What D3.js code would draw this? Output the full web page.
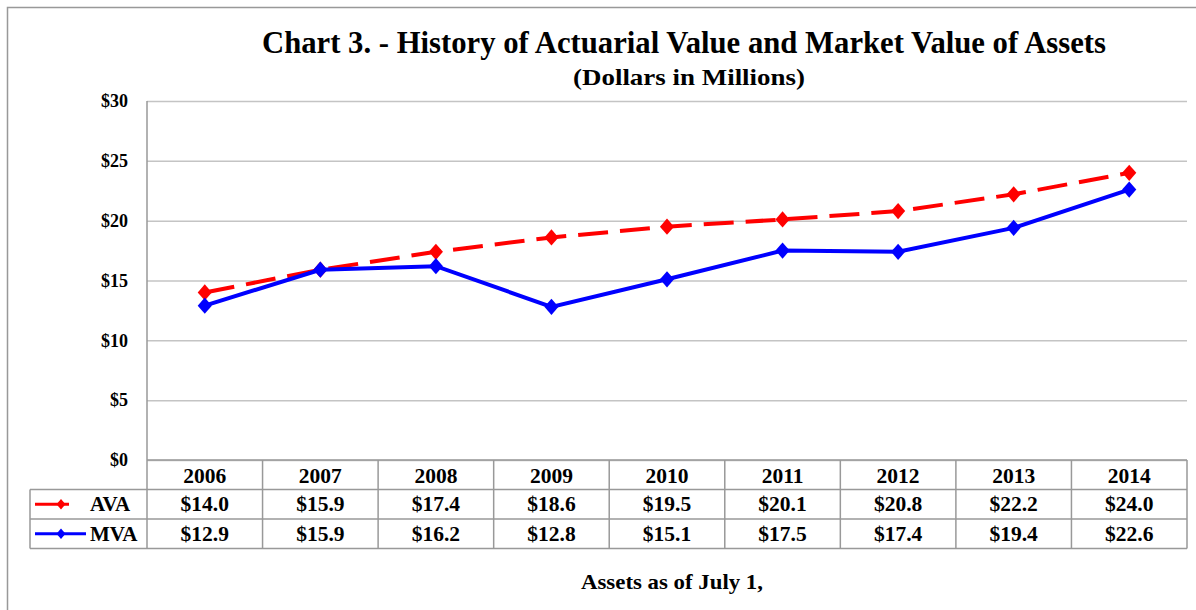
<!DOCTYPE html>
<html>
<head>
<meta charset="utf-8">
<script src="https://cdn.jsdelivr.net/npm/d3@7"></script>
<style>
  body { margin: 0; background: #fff; }
  svg { display: block; font-family: "Liberation Serif", "Times New Roman", serif; font-weight: bold; }
</style>
</head>
<body>
<svg id="chart" width="1196" height="610"></svg>
<script>
// chart data
const years = ["2006", "2007", "2008", "2009", "2010", "2011", "2012", "2013", "2014"];
const avaValues = [14.0, 15.9, 17.4, 18.6, 19.5, 20.1, 20.8, 22.2, 24.0];
const mvaValues = [12.9, 15.9, 16.2, 12.8, 15.1, 17.5, 17.4, 19.4, 22.6];
const yTicks = [0, 5, 10, 15, 20, 25, 30];

const series = [
  { name: "AVA", values: avaValues, color: "#ff0000", dash: "30,12", legendEnd: 69 },
  { name: "MVA", values: mvaValues, color: "#0000ff", dash: null, legendEnd: 86 }
];

const MARGIN = { left: 147, top: 101 };
const plotW = 1187 - MARGIN.left;
const plotH = 460 - MARGIN.top;
const rowH = 29.5;
const gridColor = "#999";

const svg = d3.select("#chart");

// outer frame
svg.append("rect")
  .attr("x", 7.5).attr("y", 7.5)
  .attr("width", 1200).attr("height", 620)
  .attr("fill", "none").attr("stroke", gridColor).attr("stroke-width", 1.5);

// titles
svg.append("text")
  .attr("x", 262).attr("y", 53)
  .attr("textLength", 844).attr("lengthAdjust", "spacingAndGlyphs")
  .style("font-size", "31px")
  .text("Chart 3. - History of Actuarial Value and Market Value of Assets");
svg.append("text")
  .attr("x", 573).attr("y", 85)
  .attr("textLength", 232).attr("lengthAdjust", "spacingAndGlyphs")
  .style("font-size", "24px")
  .text("(Dollars in Millions)");

const xScale = d3.scaleBand().domain(years).range([0, plotW]);
const yScale = d3.scaleLinear().domain([0, 30]).range([plotH, 0]);
const cx = d => xScale(d) + xScale.bandwidth() / 2;

const plot = svg.append("g").attr("transform", `translate(${MARGIN.left},${MARGIN.top})`);

// gridlines + y axis labels
const yAxis = plot.append("g")
  .call(d3.axisLeft(yScale).tickValues(yTicks).tickSize(-plotW).tickFormat(d => "$" + d).tickPadding(19));
yAxis.select(".domain").remove();
yAxis.selectAll(".tick line").attr("stroke", "#c4c4c4").attr("stroke-width", 1.5);
yAxis.selectAll(".tick text")
  .style("font-size", "18px").style("font-family", "Liberation Serif, serif")
  .style("font-weight", "bold").attr("fill", "#000");

// left axis line
plot.append("line")
  .attr("x1", 0).attr("x2", 0).attr("y1", 0).attr("y2", plotH + rowH * 3)
  .attr("stroke", gridColor).attr("stroke-width", 1.5);

// series lines
const line = d3.line()
  .x((d, i) => cx(years[i]))
  .y(d => yScale(d));

const marker = d3.symbol().type(d3.symbolSquare).size(100);

series.forEach(s => {
  plot.append("path")
    .datum(s.values)
    .attr("d", line)
    .attr("fill", "none")
    .attr("stroke", s.color)
    .attr("stroke-width", 4)
    .attr("stroke-dasharray", s.dash);
  plot.selectAll(null)
    .data(s.values)
    .enter()
    .append("path")
    .attr("d", marker)
    .attr("transform", (d, i) => `translate(${cx(years[i])},${yScale(d)}) scale(1,1.15) rotate(45)`)
    .attr("fill", s.color);
});

// data table
const table = svg.append("g").attr("transform", `translate(0,${MARGIN.top + plotH})`);
const tableLeft = 30;

table.append("line")
  .attr("x1", MARGIN.left).attr("x2", MARGIN.left + plotW).attr("y1", 0).attr("y2", 0)
  .attr("stroke", gridColor).attr("stroke-width", 1.5);
[1, 2, 3].forEach(r => {
  table.append("line")
    .attr("x1", tableLeft).attr("x2", MARGIN.left + plotW).attr("y1", r * rowH).attr("y2", r * rowH)
    .attr("stroke", gridColor).attr("stroke-width", 1.5);
});
table.append("line")
  .attr("x1", tableLeft).attr("x2", tableLeft).attr("y1", rowH).attr("y2", rowH * 3)
  .attr("stroke", gridColor).attr("stroke-width", 1.5);
years.forEach(y => {
  const x = MARGIN.left + xScale(y) + xScale.bandwidth();
  table.append("line")
    .attr("x1", x).attr("x2", x).attr("y1", 0).attr("y2", rowH * 3)
    .attr("stroke", gridColor).attr("stroke-width", 1.5);
});

// header row
table.selectAll(".year")
  .data(years)
  .enter()
  .append("text")
  .attr("x", d => MARGIN.left + cx(d))
  .attr("y", 22.5)
  .attr("text-anchor", "middle")
  .style("font-size", "21.5px")
  .text(d => d);

// series rows
series.forEach((s, r) => {
  const top = rowH * (r + 1);
  const my = top + rowH / 2;
  table.append("line")
    .attr("x1", 35).attr("x2", s.legendEnd).attr("y1", my).attr("y2", my)
    .attr("stroke", s.color).attr("stroke-width", 3);
  table.append("path")
    .attr("d", d3.symbol().type(d3.symbolSquare).size(40))
    .attr("transform", `translate(61,${my}) scale(1,1.15) rotate(45)`)
    .attr("fill", s.color);
  table.append("text")
    .attr("x", 90).attr("y", top + 21.5)
    .style("font-size", "21px")
    .text(s.name);
  table.selectAll(null)
    .data(s.values)
    .enter()
    .append("text")
    .attr("x", (d, i) => MARGIN.left + cx(years[i]))
    .attr("y", top + 21.5)
    .attr("text-anchor", "middle")
    .style("font-size", "21.5px")
    .text(d => "$" + d.toFixed(1));
});

// x axis title
svg.append("text")
  .attr("x", 581).attr("y", 589)
  .attr("textLength", 182).attr("lengthAdjust", "spacingAndGlyphs")
  .style("font-size", "22px")
  .text("Assets as of July 1,");
</script>
</body>
</html>
